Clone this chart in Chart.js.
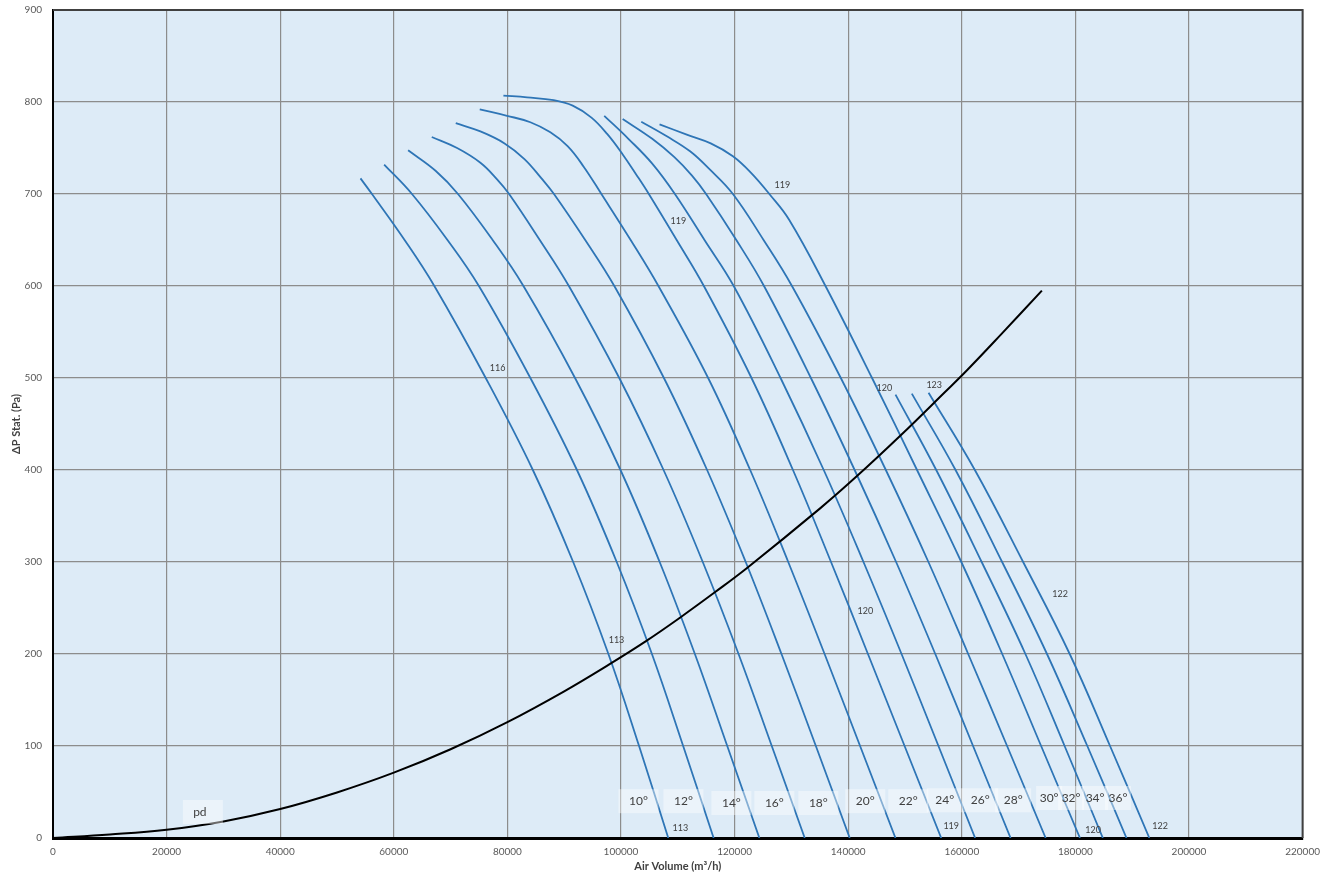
<!DOCTYPE html>
<html>
<head>
<meta charset="utf-8">
<script src="https://cdn.jsdelivr.net/npm/chart.js@4.4.1/dist/chart.umd.min.js"></script>
<style>
  html, body { margin: 0; padding: 0; background: #ffffff; }
  #wrap { width: 1328px; height: 880px; }
</style>
</head>
<body>
<div id="wrap"><canvas id="fanChart" width="1328" height="880"></canvas></div>
<script>
// Fan characteristic curves, one per blade angle: [air volume m³/h, static pressure Pa]
const fan10 = [[54135,717],[56157,700],[61900,650],[67137,600],[76183,500],[84483,400],[91583,300],[97783,200],[103183,100],[108322,0]];
const fan12 = [[58300,732],[63200,700],[69450,650],[74980,600],[84046,500],[92246,400],[99246,300],[105446,200],[110946,100],[116309,0]];
const fan14 = [[62522,747.5],[67400,725],[71300,700],[77400,650],[82824,600],[91908,500],[99908,400],[106808,300],[113008,200],[118708,100],[124362,0]];
const fan16 = [[66686,762],[71144,750],[75249,734],[78182,716],[80300,700],[85700,650],[90824,600],[99695,500],[107495,400],[114395,300],[120695,200],[126545,100],[132349,0]];
const fan18 = [[70909,777],[75249,768],[79500,755],[83000,738],[86000,717],[88200,700],[93700,650],[98824,600],[107557,500],[115157,400],[121957,300],[128257,200],[134307,100],[140268,0]];
const fan20 = [[75132,792],[79941,785],[84046,778],[87566,767],[90600,752],[93400,730],[96549,700],[101700,650],[106588,600],[115344,500],[122744,400],[129444,300],[135844,200],[142094,100],[148322,0]];
const fan22 = [[79296,807],[83460,805],[88152,802],[91500,796],[94800,783],[97600,765],[100300,743],[102700,721],[104900,700],[109800,650],[114588,600],[122977,500],[130277,400],[136977,300],[143477,200],[149927,100],[156376,0]];
const fan24 = [[97050,785],[101300,760],[105500,733],[109490,700],[114700,650],[119843,600],[128092,500],[135692,400],[142692,300],[149392,200],[155892,100],[162349,0]];
const fan26 = [[100292,781.5],[105500,760],[109400,740],[112500,720],[114980,700],[120300,650],[125176,600],[133435,500],[141135,400],[148435,300],[155335,200],[161985,100],[168590,0]];
const fan28 = [[103567,778.6],[108070,762.7],[112164,746.4],[115673,726.4],[119700,700],[125100,650],[130100,600],[138700,500],[146626,400],[154126,300],[161126,200],[167976,100],[174765,0]];
const fan30 = [[106784,775.7],[111579,764.5],[115800,755],[119700,741],[122900,723],[126118,700],[129600,672],[136000,600],[144200,500],[152117,400],[159917,300],[167117,200],[173967,100],[180805,0]];
const fan32 = [[148330,482],[155500,400],[163500,300],[171200,200],[178100,100],[184832,0]];
const fan34 = [[151200,483],[158900,400],[167100,300],[175000,200],[182100,100],[188993,0]];
const fan36 = [[154150,484],[162300,400],[170800,300],[179000,200],[186100,100],[193020,0]];

// System resistance curve (pd)
const pdCurve = [[0,0],[10000,3.8],[20000,9],[30000,18],[40000,31.5],[50000,49.5],[60000,71],[70000,96.5],[80000,126],[90000,159.5],[98000,189],[104400,214],[110500,240],[116400,266.5],[122300,294],[135000,358],[141300,392],[149300,438],[157000,484.5],[161000,509],[167000,548],[174100,595]];

// Blade angle captions placed near the foot of each curve
const angleNames = ['10°','12°','14°','16°','18°','20°','22°','24°','26°','28°','30°','32°','34°','36°'];
const angleX = [103078,110994,119437,127000,134740,143008,150580,157000,163236,169041,175374,179244,183465,187512];
const angleY = [40,40,38,38,38,40,40,41,41,41,43.5,43.5,43.5,43.5];

// Small curve annotations
const noteText = ['119','119','116','120','123','122','120','113','113','119','120','122'];
const noteX = [128408,110114,78276,146350,155145,177309,143008,99208,110466,158135,183113,194898];
const noteY = [709.8,670.7,510.9,489,492.4,265,246.7,215.2,10.9,13,8.7,13];

const fanCurves = [fan10, fan12, fan14, fan16, fan18, fan20, fan22, fan24, fan26, fan28, fan30, fan32, fan34, fan36];

const FONT = "Lato, 'Open Sans', 'Liberation Sans', sans-serif";
const BLUE = '#2e75b6';

const toPoints = arr => arr.map(p => ({ x: p[0], y: p[1] }));

const datasets = [
  {
    label: 'pd',
    data: toPoints(pdCurve),
    showLine: true,
    borderColor: '#000000',
    borderWidth: 2,
    pointRadius: 0,
    tension: 0.4,
    order: 0
  }
].concat(fanCurves.map((c, i) => ({
  label: angleNames[i],
  data: toPoints(c),
  showLine: true,
  borderColor: BLUE,
  borderWidth: 1.8,
  pointRadius: 0,
  tension: 0.4,
  order: 1
})));

// Light blue plot area
const plotBackground = {
  id: 'plotBackground',
  beforeDraw(chart) {
    const { ctx, chartArea: a } = chart;
    ctx.save();
    ctx.fillStyle = '#ddebf7';
    ctx.fillRect(a.left, a.top, a.right - a.left, a.bottom - a.top);
    ctx.restore();
  }
};

// Captions and labels drawn on top of the curves
const chartTexts = {
  id: 'chartTexts',
  afterDatasetsDraw(chart) {
    const { ctx, scales: { x, y } } = chart;
    ctx.save();
    ctx.textAlign = 'center';
    ctx.textBaseline = 'middle';

    // blade angle captions with translucent boxes
    ctx.font = '12px ' + FONT;
    angleNames.forEach((t, i) => {
      const px = x.getPixelForValue(angleX[i]);
      const py = y.getPixelForValue(angleY[i]);
      const w = i >= 10 ? 26 : (i >= 7 ? 36 : 40);
      ctx.fillStyle = 'rgba(255,255,255,0.42)';
      ctx.fillRect(px - w / 2, py - 12, w, 24);
    });
    ctx.fillStyle = '#404040';
    angleNames.forEach((t, i) => {
      ctx.fillText(t, x.getPixelForValue(angleX[i]), y.getPixelForValue(angleY[i]));
    });

    // pd caption
    const pdx = x.getPixelForValue(26385), pdy = y.getPixelForValue(28.3);
    ctx.fillStyle = 'rgba(255,255,255,0.42)';
    ctx.fillRect(pdx - 20, pdy - 12, 40, 24);
    ctx.fillStyle = '#404040';
    ctx.fillText('pd', pdx - 3, pdy);

    // small annotations
    ctx.font = '9px ' + FONT;
    ctx.fillStyle = '#404040';
    noteText.forEach((t, i) => {
      ctx.fillText(t, x.getPixelForValue(noteX[i]), y.getPixelForValue(noteY[i]));
    });
    ctx.restore();
  },
  afterDraw(chart) {
    const { ctx, chartArea: a } = chart;
    ctx.save();
    ctx.strokeStyle = '#404040';
    ctx.lineWidth = 2;
    ctx.beginPath();
    ctx.moveTo(a.left, a.top);
    ctx.lineTo(a.right, a.top);
    ctx.lineTo(a.right, a.bottom);
    ctx.stroke();
    ctx.restore();
  }
};

new Chart(document.getElementById('fanChart'), {
  type: 'scatter',
  data: { datasets },
  options: {
    responsive: false,
    animation: false,
    events: [],
    layout: { padding: { top: 10, right: 25, left: 0, bottom: 0 } },
    plugins: {
      legend: { display: false },
      tooltip: { enabled: false }
    },
    scales: {
      x: {
        type: 'linear',
        min: 0,
        max: 220000,
        afterFit(scale) { scale.height = 42; },
        ticks: {
          stepSize: 20000,
          padding: 8,
          color: '#595959',
          font: { family: FONT, size: 10 },
          callback: v => String(v)
        },
        grid: { color: '#8c8c8c', lineWidth: 1.2, drawTicks: false },
        border: { color: '#000000', width: 3 },
        title: {
          display: true,
          text: 'Air Volume (m³/h)',
          color: '#404040',
          font: { family: FONT, size: 11, weight: 'bold' },
          padding: { top: 0, bottom: 7 }
        }
      },
      y: {
        type: 'linear',
        min: 0,
        max: 900,
        afterFit(scale) {
          scale.width = 53;
          scale.paddingTop = 0;
          scale.paddingBottom = 0;
        },
        ticks: {
          stepSize: 100,
          padding: 11,
          color: '#595959',
          font: { family: FONT, size: 10 }
        },
        grid: { color: '#8c8c8c', lineWidth: 1.2, drawTicks: false },
        border: { color: '#000000', width: 2 },
        title: {
          display: true,
          text: 'ΔP Stat. (Pa)',
          color: '#404040',
          font: { family: FONT, size: 11, weight: 'bold' },
          padding: { top: 10, bottom: 0 }
        }
      }
    }
  },
  plugins: [plotBackground, chartTexts]
});
</script>
</body>
</html>
